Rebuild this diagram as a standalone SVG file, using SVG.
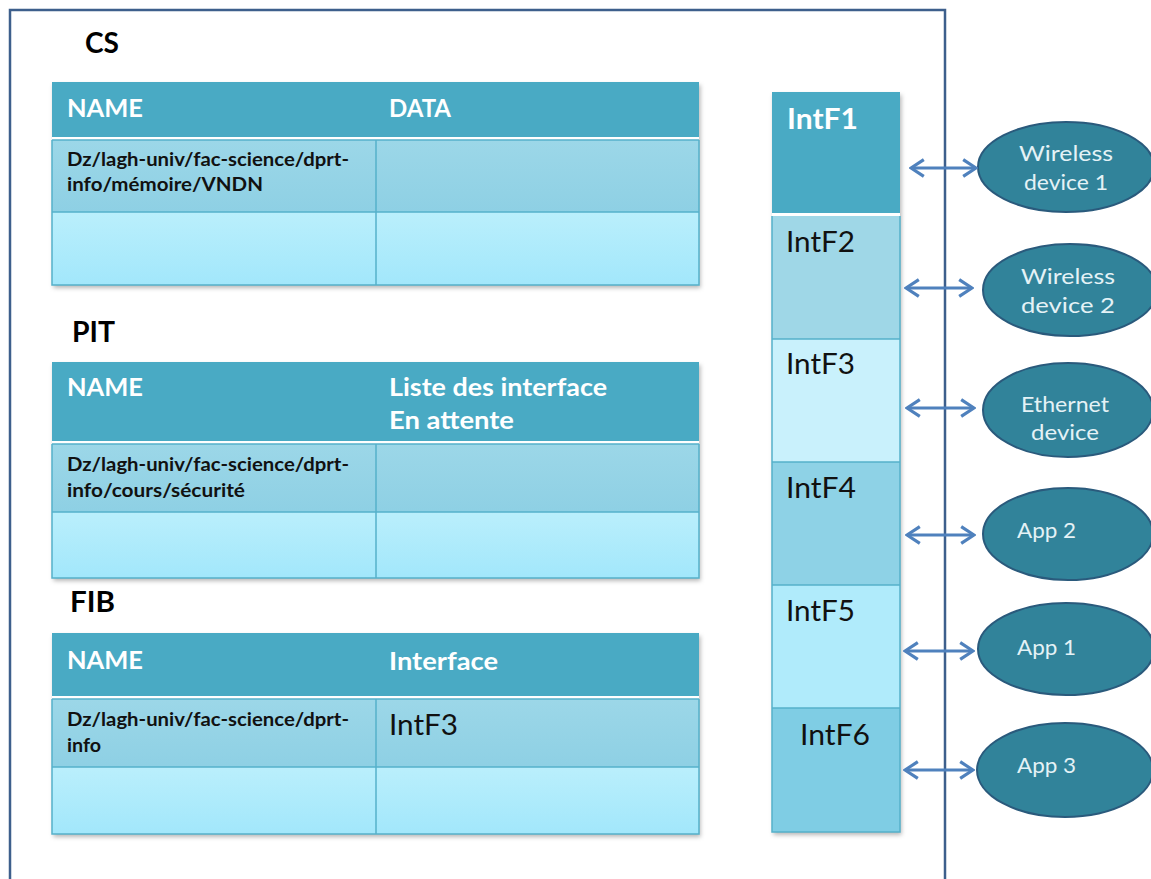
<svg xmlns="http://www.w3.org/2000/svg" width="1151" height="879" viewBox="0 0 1151 879">
  <defs>
    <style>
      .title { font-family: Lato, "Liberation Sans", sans-serif; font-weight: 700; font-size: 29px; fill: #000; }
      .hdr { font-family: Lato, "Liberation Sans", sans-serif; font-weight: 700; font-size: 24px; fill: #fff; }
      .cell { font-family: Lato, "Liberation Sans", sans-serif; font-weight: 700; font-size: 18px; fill: #111; }
      .intf { font-family: Lato, "Liberation Sans", sans-serif; font-size: 28px; fill: #111; }
      .intf-b { font-family: Lato, "Liberation Sans", sans-serif; font-weight: 700; font-size: 28px; fill: #fff; }
      .dev { font-family: Lato, "Liberation Sans", sans-serif; font-size: 21px; fill: #e4f2f6; }
      .head { fill: #4aaac4; }
      .gridline { stroke: #55b1ca; stroke-width: 1.5; fill: none; }
      .sep { fill: #ffffff; }
      .device { fill: #31839a; stroke: #2a5a7c; stroke-width: 2; }
      .link { stroke: #4f81bd; stroke-width: 3.2; fill: none; marker-start: url(#tip); marker-end: url(#tip); }
    </style>
    <linearGradient id="row2" x1="0" y1="0" x2="0" y2="1">
      <stop offset="0" stop-color="#9cd7e8"/>
      <stop offset="1" stop-color="#8ed0e4"/>
    </linearGradient>
    <linearGradient id="row3" x1="0" y1="0" x2="0" y2="1">
      <stop offset="0" stop-color="#baeffc"/>
      <stop offset="1" stop-color="#a2e7fb"/>
    </linearGradient>
    <filter id="shadow" x="-5%" y="-5%" width="110%" height="115%">
      <feDropShadow dx="1.5" dy="3" stdDeviation="2" flood-color="#000" flood-opacity="0.28"/>
    </filter>
    <marker id="tip" viewBox="0 0 5 6.2" refX="4.5" refY="3.1" markerWidth="5" markerHeight="6.2" orient="auto-start-reverse" markerUnits="strokeWidth">
      <path d="M0.5,0.5 L4.5,3.1 L0.5,5.7" fill="none" stroke="#4f81bd" stroke-width="1" stroke-linejoin="miter"/>
    </marker>
  </defs>

  <rect width="1151" height="879" fill="#ffffff"/>

  <!-- node frame -->
  <g id="frame">
    <path d="M10,880 V10 H945 V880" fill="none" stroke="#3d5f8c" stroke-width="2.5"/>
  </g>

  <!-- Content Store -->
  <g id="cs">
    <text class="title" x="85" y="53" textLength="34" lengthAdjust="spacingAndGlyphs">CS</text>
    <g filter="url(#shadow)">
      <rect class="head" x="52" y="82" width="647" height="56"/>
      <rect class="sep" x="52" y="137" width="647" height="3"/>
      <rect x="52" y="140" width="647" height="72" fill="url(#row2)"/>
      <rect x="52" y="212" width="647" height="73" fill="url(#row3)"/>
    </g>
    <path class="gridline" d="M52,140 H699 M52,212 H699 M376,140 V285 M52,140 V285 H699 V140"/>
    <text class="hdr" x="67" y="117" textLength="76" lengthAdjust="spacingAndGlyphs">NAME</text>
    <text class="hdr" x="389" y="117" textLength="62" lengthAdjust="spacingAndGlyphs">DATA</text>
    <text class="cell" x="67" y="166" textLength="282" lengthAdjust="spacingAndGlyphs">Dz/lagh-univ/fac-science/dprt-</text>
    <text class="cell" x="67" y="191" textLength="196" lengthAdjust="spacingAndGlyphs">info/mémoire/VNDN</text>
  </g>

  <!-- Pending Interest Table -->
  <g id="pit">
    <text class="title" x="72" y="342" textLength="43" lengthAdjust="spacingAndGlyphs">PIT</text>
    <g filter="url(#shadow)">
      <rect class="head" x="52" y="362" width="647" height="80"/>
      <rect class="sep" x="52" y="441" width="647" height="3"/>
      <rect x="52" y="444" width="647" height="68" fill="url(#row2)"/>
      <rect x="52" y="512" width="647" height="66" fill="url(#row3)"/>
    </g>
    <path class="gridline" d="M52,444 H699 M52,512 H699 M376,444 V578 M52,444 V578 H699 V444"/>
    <text class="hdr" x="67" y="396" textLength="76" lengthAdjust="spacingAndGlyphs">NAME</text>
    <text class="hdr" x="389" y="396" textLength="218" lengthAdjust="spacingAndGlyphs">Liste des interface</text>
    <text class="hdr" x="389" y="429" textLength="125" lengthAdjust="spacingAndGlyphs">En attente</text>
    <text class="cell" x="67" y="471" textLength="282" lengthAdjust="spacingAndGlyphs">Dz/lagh-univ/fac-science/dprt-</text>
    <text class="cell" x="67" y="497" textLength="178" lengthAdjust="spacingAndGlyphs">info/cours/sécurité</text>
  </g>

  <!-- Forwarding Information Base -->
  <g id="fib">
    <text class="title" x="70" y="612" textLength="45" lengthAdjust="spacingAndGlyphs">FIB</text>
    <g filter="url(#shadow)">
      <rect class="head" x="52" y="633" width="647" height="64"/>
      <rect class="sep" x="52" y="696" width="647" height="3"/>
      <rect x="52" y="699" width="647" height="68" fill="url(#row2)"/>
      <rect x="52" y="767" width="647" height="67" fill="url(#row3)"/>
    </g>
    <path class="gridline" d="M52,699 H699 M52,767 H699 M376,699 V834 M52,699 V834 H699 V699"/>
    <text class="hdr" x="67" y="669" textLength="76" lengthAdjust="spacingAndGlyphs">NAME</text>
    <text class="hdr" x="389" y="670" textLength="109" lengthAdjust="spacingAndGlyphs">Interface</text>
    <text class="cell" x="67" y="726" textLength="282" lengthAdjust="spacingAndGlyphs">Dz/lagh-univ/fac-science/dprt-</text>
    <text class="cell" x="67" y="752" textLength="34" lengthAdjust="spacingAndGlyphs">info</text>
    <text class="intf" x="389" y="735" textLength="69" lengthAdjust="spacingAndGlyphs">IntF3</text>
  </g>

  <!-- interface column -->
  <g id="interfaces">
    <g filter="url(#shadow)">
      <rect x="772" y="92" width="128" height="122" fill="#4aaac4"/>
      <rect x="772" y="213" width="128" height="3" fill="#ffffff"/>
      <rect x="772" y="216" width="128" height="123" fill="#9fd7e7"/>
      <rect x="772" y="339" width="128" height="123" fill="#c9f1fc"/>
      <rect x="772" y="462" width="128" height="123" fill="#8ed2e6"/>
      <rect x="772" y="585" width="128" height="123" fill="#b0ebfb"/>
      <rect x="772" y="708" width="128" height="124" fill="#7fcde4"/>
    </g>
    <path class="gridline" d="M772,216 V832 H900 V216 M772,339 H900 M772,462 H900 M772,585 H900 M772,708 H900"/>
    <text id="intf1" class="intf-b" x="787" y="129" textLength="71" lengthAdjust="spacingAndGlyphs">IntF1</text>
    <text id="intf2" class="intf" x="786" y="252" textLength="69" lengthAdjust="spacingAndGlyphs">IntF2</text>
    <text id="intf3" class="intf" x="786" y="374" textLength="69" lengthAdjust="spacingAndGlyphs">IntF3</text>
    <text id="intf4" class="intf" x="786" y="498" textLength="70" lengthAdjust="spacingAndGlyphs">IntF4</text>
    <text id="intf5" class="intf" x="786" y="621" textLength="69" lengthAdjust="spacingAndGlyphs">IntF5</text>
    <text id="intf6" class="intf" x="800" y="745" textLength="70" lengthAdjust="spacingAndGlyphs">IntF6</text>
  </g>

  <!-- attached faces -->
  <g id="wireless1">
    <ellipse class="device" cx="1066" cy="167" rx="88" ry="45"/>
    <text class="dev" x="1066" y="161" text-anchor="middle" textLength="94" lengthAdjust="spacingAndGlyphs">Wireless</text>
    <text class="dev" x="1066" y="190" text-anchor="middle" textLength="84" lengthAdjust="spacingAndGlyphs">device 1</text>
  </g>
  <g id="wireless2">
    <ellipse class="device" cx="1070" cy="290" rx="87" ry="46"/>
    <text class="dev" x="1068" y="284" text-anchor="middle" textLength="94" lengthAdjust="spacingAndGlyphs">Wireless</text>
    <text class="dev" x="1068" y="313" text-anchor="middle" textLength="94" lengthAdjust="spacingAndGlyphs">device  2</text>
  </g>
  <g id="ethernet">
    <ellipse class="device" cx="1068" cy="410" rx="85" ry="47"/>
    <text class="dev" x="1065" y="412" text-anchor="middle" textLength="88" lengthAdjust="spacingAndGlyphs">Ethernet</text>
    <text class="dev" x="1065" y="440" text-anchor="middle" textLength="68" lengthAdjust="spacingAndGlyphs">device</text>
  </g>
  <g id="app2">
    <ellipse class="device" cx="1068" cy="534" rx="85" ry="46"/>
    <text class="dev" x="1017" y="538" textLength="59" lengthAdjust="spacingAndGlyphs">App 2</text>
  </g>
  <g id="app1">
    <ellipse class="device" cx="1066" cy="649" rx="88" ry="46"/>
    <text class="dev" x="1017" y="655" textLength="59" lengthAdjust="spacingAndGlyphs">App 1</text>
  </g>
  <g id="app3">
    <ellipse class="device" cx="1065" cy="770" rx="88" ry="47"/>
    <text class="dev" x="1017" y="773" textLength="59" lengthAdjust="spacingAndGlyphs">App 3</text>
  </g>

  <!-- connectors -->
  <g id="connectors">
    <line class="link" x1="911" y1="168" x2="976" y2="168"/>
    <line class="link" x1="906" y1="288" x2="972" y2="288"/>
    <line class="link" x1="907" y1="408" x2="974" y2="408"/>
    <line class="link" x1="907" y1="535" x2="974" y2="535"/>
    <line class="link" x1="905" y1="651" x2="973" y2="651"/>
    <line class="link" x1="905" y1="770" x2="973" y2="770"/>
  </g>
</svg>
